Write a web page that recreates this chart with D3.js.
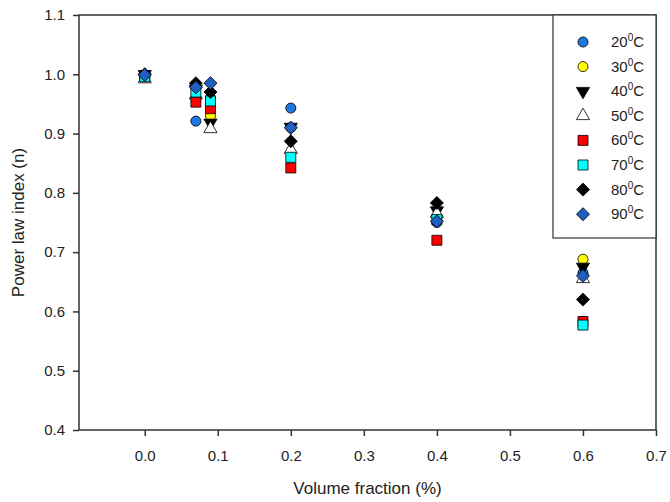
<!DOCTYPE html>
<html>
<head>
<meta charset="utf-8">
<script src="https://cdn.jsdelivr.net/npm/d3@7"></script>
<style>
  body { margin: 0; background: #fff; }
  svg text { font-family: "Liberation Sans", Arial, sans-serif; fill: #222; }
</style>
</head>
<body>
<div id="chart"></div>
<script>
// volume fractions (x values)
const fractions = [0.0, 0.07, 0.09, 0.2, 0.4, 0.6];
// temperatures (series)
const temps = ["20", "30", "40", "50", "60", "70", "80", "90"];
// power law index per temperature, one value per fraction
const n20 = [0.995, 0.921, 0.960, 0.943, 0.750, 0.665];
const n30 = [0.997, 0.960, 0.930, 0.910, 0.760, 0.688];
const n40 = [1.000, 0.975, 0.918, 0.911, 0.770, 0.675];
const n50 = [0.992, 0.965, 0.908, 0.873, 0.765, 0.655];
const n60 = [0.998, 0.953, 0.942, 0.842, 0.720, 0.583];
const n70 = [0.996, 0.970, 0.955, 0.860, 0.755, 0.577];
const n80 = [1.000, 0.985, 0.970, 0.887, 0.783, 0.620];
const n90 = [0.999, 0.978, 0.985, 0.910, 0.752, 0.660];
const xTicks = [0.0, 0.1, 0.2, 0.3, 0.4, 0.5, 0.6, 0.7];
const yTicks = [0.4, 0.5, 0.6, 0.7, 0.8, 0.9, 1.0, 1.1];

const seriesValues = [n20, n30, n40, n50, n60, n70, n80, n90];
const fills = ["#1f77e0", "#ffff00", "#000000", "#ffffff", "#ff0000", "#00ffff", "#000000", "#1f5fc0"];
const shapes = ["circle", "circle", "tridown", "triup", "square", "square", "diamond", "diamond"];

const width = 670, height = 502;
const pLeft = 79, pRight = 656, pTop = 15, pBottom = 430;

const svg = d3.select("#chart").append("svg")
  .attr("width", width)
  .attr("height", height);

const x = d3.scaleLinear().domain([-0.09, 0.7]).range([pLeft, pRight]);
const y = d3.scaleLinear().domain([0.4, 1.1]).range([pBottom, pTop]);

function symbolPath(shape) {
  if (shape === "circle") return d3.symbol(d3.symbolCircle, 80)();
  if (shape === "square") return d3.symbol(d3.symbolSquare, 100)();
  if (shape === "diamond") return d3.symbol(d3.symbolSquare, 85)();
  return d3.symbol(d3.symbolTriangle, 75)();
}
function symbolRotate(shape) {
  if (shape === "diamond") return 45;
  if (shape === "tridown") return 180;
  return 0;
}

// frame
svg.append("rect")
  .attr("x", pLeft).attr("y", pTop)
  .attr("width", pRight - pLeft).attr("height", pBottom - pTop)
  .attr("fill", "none").attr("stroke", "#333").attr("stroke-width", 1.5);

// x axis
const xAxis = svg.append("g")
  .attr("transform", `translate(0,${pBottom})`)
  .call(d3.axisBottom(x).tickValues(xTicks).tickFormat(d3.format(".1f")).tickSize(6).tickPadding(14));
xAxis.select(".domain").remove();
xAxis.selectAll("line").attr("stroke", "#333").attr("stroke-width", 1.5);
xAxis.selectAll("text").style("font-size", "15px");

// y axis
const yAxis = svg.append("g")
  .attr("transform", `translate(${pLeft},0)`)
  .call(d3.axisLeft(y).tickValues(yTicks).tickFormat(d3.format(".1f")).tickSize(6).tickPadding(8));
yAxis.select(".domain").remove();
yAxis.selectAll("line").attr("stroke", "#333").attr("stroke-width", 1.5);
yAxis.selectAll("text").style("font-size", "15px");

// axis titles
svg.append("text")
  .attr("x", (pLeft + pRight) / 2).attr("y", 494)
  .attr("text-anchor", "middle")
  .style("font-size", "17px")
  .text("Volume fraction (%)");

svg.append("text")
  .attr("transform", `translate(24,${(pTop + pBottom) / 2}) rotate(-90)`)
  .attr("text-anchor", "middle")
  .style("font-size", "17px")
  .text("Power law index (n)");

// points
seriesValues.forEach((vals, i) => {
  svg.append("g").selectAll("path")
    .data(vals.map((v, j) => [fractions[j], v]))
    .join("path")
    .attr("d", symbolPath(shapes[i]))
    .attr("transform", d => `translate(${x(d[0])},${y(d[1])}) rotate(${symbolRotate(shapes[i])})`)
    .attr("fill", fills[i])
    .attr("stroke", "#000")
    .attr("stroke-width", 0.8);
});

// legend
const legend = svg.append("g");
legend.append("rect")
  .attr("x", 553).attr("y", pTop)
  .attr("width", pRight - 553).attr("height", 223)
  .attr("fill", "#fff").attr("stroke", "#333").attr("stroke-width", 1.2);

temps.forEach((t, i) => {
  const ly = 42 + i * 24.6;
  legend.append("path")
    .attr("d", symbolPath(shapes[i]))
    .attr("transform", `translate(583,${ly}) rotate(${symbolRotate(shapes[i])})`)
    .attr("fill", fills[i])
    .attr("stroke", "#000")
    .attr("stroke-width", 0.8);
  const txt = legend.append("text")
    .attr("x", 611).attr("y", ly + 5)
    .style("font-size", "15px");
  txt.append("tspan").text(t);
  txt.append("tspan").attr("dy", -6).style("font-size", "10px").text("0");
  txt.append("tspan").attr("dy", 6).text("C");
});
</script>
</body>
</html>
